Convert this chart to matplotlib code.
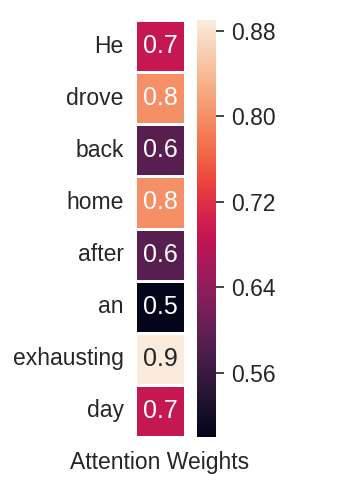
import matplotlib
matplotlib.use('Agg')
import matplotlib.pyplot as plt
import numpy as np
import seaborn as sns

words = ['He', 'drove', 'back', 'home', 'after', 'an', 'exhausting', 'day']
weights = [0.69, 0.80, 0.59, 0.80, 0.59, 0.50, 0.89, 0.69]

sns.set_style('white')
plt.rcParams['font.family'] = ['Liberation Sans', 'DejaVu Sans']

fig = plt.figure(figsize=(3.56, 4.8), dpi=100)
ax = fig.add_axes([0.379, 0.0896, 0.141, 0.8687])
cax = fig.add_axes([0.553, 0.0896, 0.054, 0.8687])

data = np.array(weights).reshape(-1, 1)
sns.heatmap(data, ax=ax, cbar_ax=cax, cmap='rocket', annot=True, fmt='.1f',
            linewidths=1, linecolor='white', vmin=0.50, vmax=0.89,
            annot_kws={'fontsize': 18},
            yticklabels=words, xticklabels=False,
            cbar_kws={'ticks': [0.56, 0.64, 0.72, 0.80, 0.88]})

ax.set_yticklabels(words, rotation=0, fontsize=16.5, color='#262626')
ax.tick_params(axis='y', length=0, pad=8)
ax.set_xlabel('Attention Weights', fontsize=16.5, color='#262626', labelpad=10)

cax.tick_params(labelsize=16.5, length=6, width=1.2, colors='#262626', pad=5)
cax.set_yticklabels(['0.56', '0.64', '0.72', '0.80', '0.88'])
for s in cax.spines.values():
    s.set_visible(False)

fig.savefig('out.png', dpi=100)
